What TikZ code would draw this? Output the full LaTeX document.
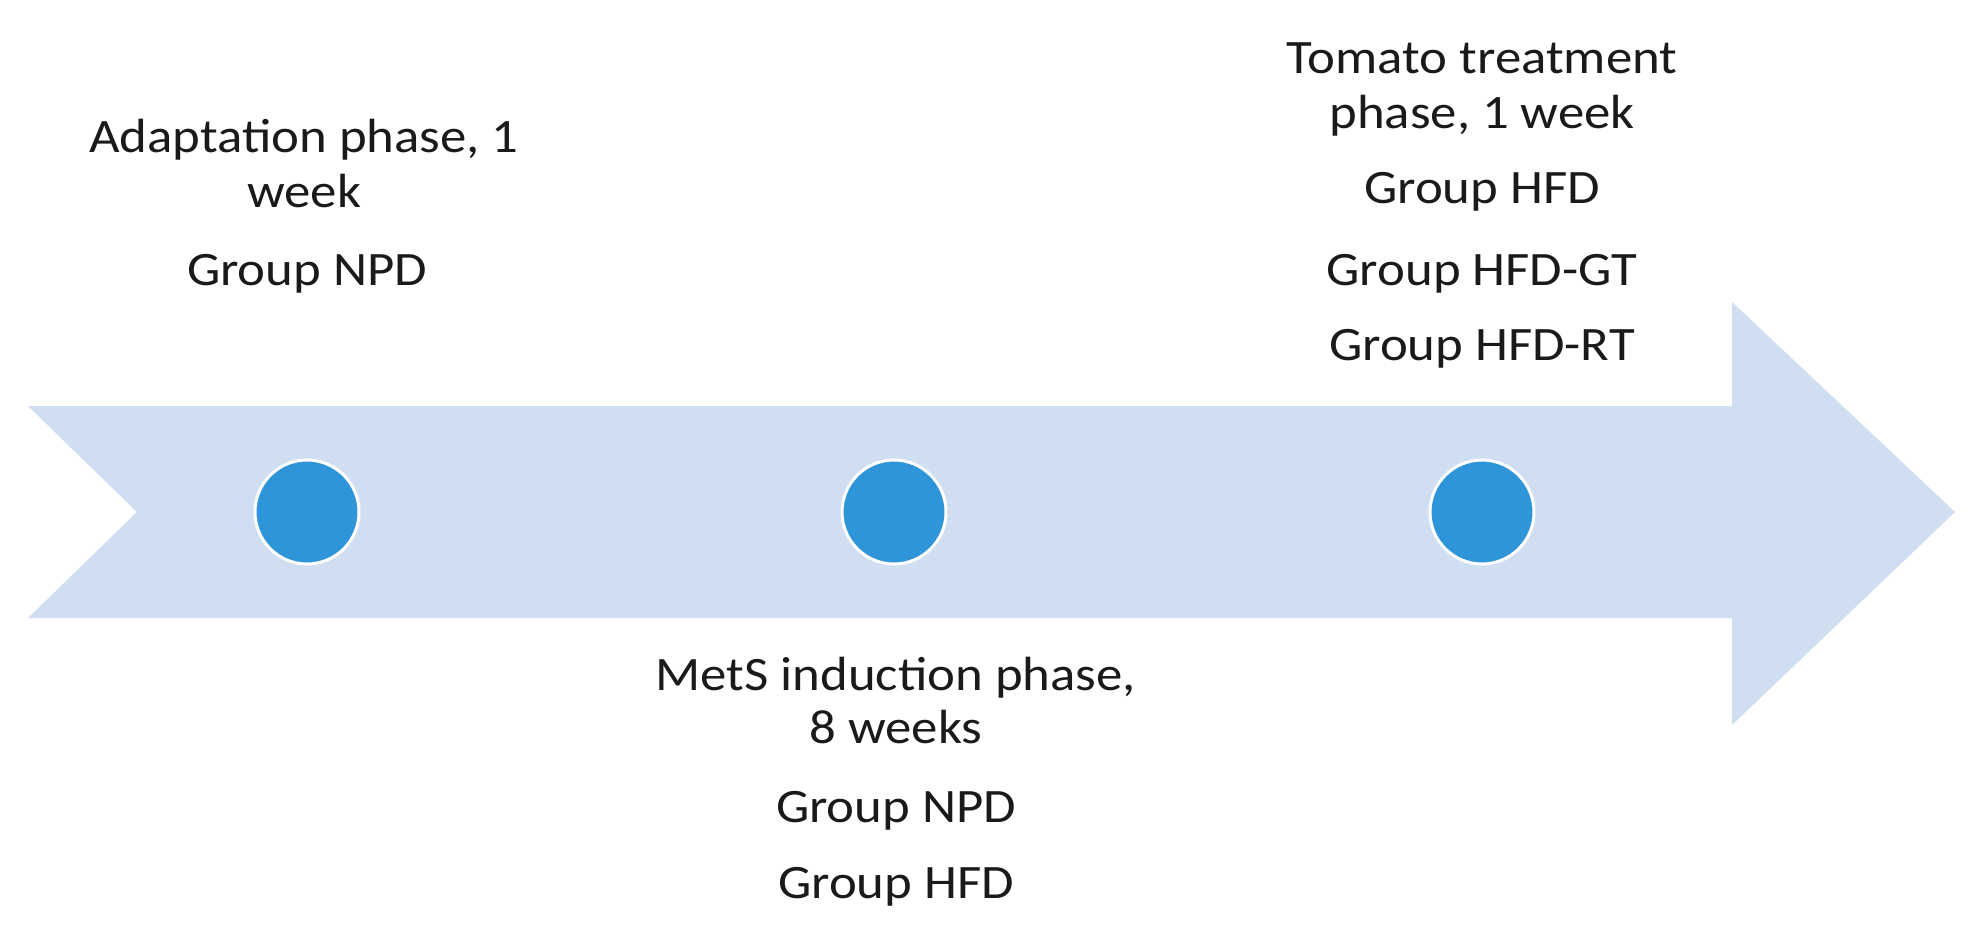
\documentclass[tikz,border=0pt]{standalone}
\usepackage{fontspec}
\setmainfont{Carlito}
\definecolor{arrowblue}{HTML}{CFDEF0}
\definecolor{dotblue}{HTML}{2E95D9}
\definecolor{txt}{HTML}{1A1A1A}
\newcommand{\wide}[1]{\scalebox{1.1}[1]{#1}}
\begin{document}
\begin{tikzpicture}[x=0.5pt,y=-0.5pt,
  lbl/.style={anchor=base,inner sep=0pt,text=txt,font=\fontsize{24}{28}\selectfont},
  dot/.style={circle,fill=dotblue,draw=white,line width=1.5pt,minimum size=52pt,inner sep=0pt}]
\useasboundingbox (0,0) rectangle (1979,933);
\fill[white] (0,0) rectangle (1979,933);
% big arrow
\fill[arrowblue] (28,406) -- (1732,406) -- (1732,302) -- (1955,512) -- (1732,725)
  -- (1732,618) -- (28,618) -- (137,512) -- cycle;
% dots
\node[dot] (d1) at (307,512) {};
\node[dot] (d2) at (894,512) {};
\node[dot] (d3) at (1482,512) {};
% adaptation
\node[lbl] (a1) at (304,152) {\wide{Adaptation phase, 1}};
\node[lbl] (a2) at (304,207) {\wide{week}};
\node[lbl] (a3) at (307,285) {\wide{Group NPD}};
% MetS
\node[lbl] (m1) at (896,690) {\wide{MetS induction phase,}};
\node[lbl] (m2) at (896,743) {\wide{8 weeks}};
\node[lbl] (m3) at (896,822) {\wide{Group NPD}};
\node[lbl] (m4) at (896,898) {\wide{Group HFD}};
% tomato
\node[lbl] (t1) at (1482,73) {\wide{Tomato treatment}};
\node[lbl] (t2) at (1482,128) {\wide{phase, 1 week}};
\node[lbl] (t3) at (1482,203) {\wide{Group HFD}};
\node[lbl] (t4) at (1482,285) {\wide{Group HFD-GT}};
\node[lbl] (t5) at (1482,360) {\wide{Group HFD-RT}};
\end{tikzpicture}
\end{document}
